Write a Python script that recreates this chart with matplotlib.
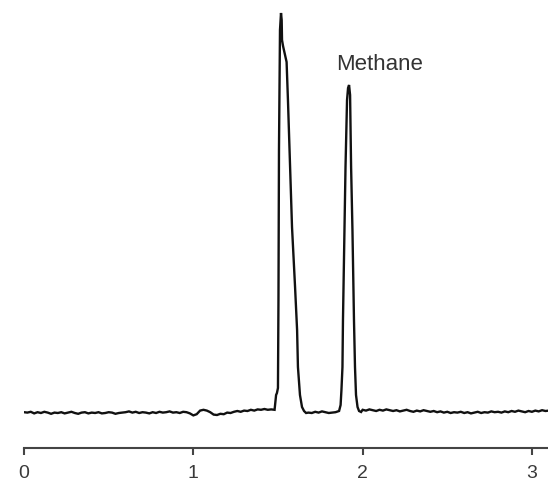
import matplotlib.pyplot as plt
import numpy as np

# retention time (min) and detector signal (arbitrary units)
base_left_t = np.round(np.arange(0.0, 1.481, 0.02), 3)
base_left_y = [0.2, 0.1, 0.3, -0.1, 0.2, 0.0, 0.3, 0.1, -0.2, 0.1,
               0.0, 0.2, -0.1, 0.1, 0.3, 0.0, -0.2, 0.1, 0.2, -0.1,
               0.1, 0.0, 0.2, -0.1, 0.0, 0.2, 0.1, -0.2, 0.0, 0.1,
               0.2, 0.4, 0.1, 0.3, 0.0, 0.2, 0.1, -0.1, 0.2, 0.0,
               0.3, 0.1, 0.2, 0.4, 0.1, 0.2, 0.0, 0.3, 0.2, -0.1,
               -0.6, -0.3, 0.6, 0.8, 0.6, 0.2, -0.4, -0.5, -0.2, -0.3,
               0.1, 0.0, 0.3, 0.5, 0.3, 0.6, 0.5, 0.8, 0.6, 0.9,
               0.8, 1.0, 0.8, 0.9, 0.8]

peak1_t = [1.489, 1.494, 1.500, 1.503, 1.506, 1.512, 1.518, 1.522, 1.524, 1.530,
           1.542, 1.551, 1.559, 1.571, 1.583, 1.601, 1.613, 1.618, 1.630, 1.642,
           1.654, 1.666]
peak1_y = [4.5, 5.0, 6.25, 28.25, 65.75, 95.75, 100.0, 98.25, 93.25, 91.75,
           89.5, 87.75, 78.25, 62.0, 46.5, 31.5, 20.75, 11.5, 4.5, 1.5,
           0.5, 0.0]

mid_t = [1.68, 1.70, 1.72, 1.74, 1.76, 1.78, 1.80, 1.82, 1.84]
mid_y = [0.1, 0.0, 0.3, 0.1, 0.4, 0.2, 0.0, 0.1, 0.2]

peak2_t = [1.861, 1.870, 1.875, 1.881, 1.884, 1.893, 1.899, 1.908, 1.914, 1.920,
           1.926, 1.932, 1.940, 1.949, 1.955, 1.961, 1.970, 1.979, 1.991]
peak2_y = [0.5, 2.0, 5.75, 11.5, 23.25, 45.75, 61.5, 78.25, 81.25, 82.0,
           79.5, 61.5, 45.75, 23.25, 11.5, 4.5, 1.5, 0.5, 0.25]

base_right_t = np.round(np.arange(2.0, 3.101, 0.02), 3)
base_right_y = [0.8, 0.6, 0.9, 0.7, 0.5, 0.8, 0.6, 0.9, 0.7, 0.5,
                0.7, 0.4, 0.6, 0.8, 0.5, 0.3, 0.6, 0.4, 0.7, 0.5,
                0.3, 0.5, 0.2, 0.4, 0.1, 0.3, 0.0, 0.2, 0.1, 0.3,
                0.0, 0.2, -0.1, 0.1, 0.3, 0.0, 0.2, 0.1, 0.4, 0.2,
                0.3, 0.1, 0.4, 0.2, 0.5, 0.3, 0.6, 0.4, 0.2, 0.5,
                0.3, 0.6, 0.4, 0.7, 0.5, 0.6]

t = np.concatenate([base_left_t, peak1_t, mid_t, peak2_t, base_right_t])
y = np.concatenate([base_left_y, peak1_y, mid_y, peak2_y, base_right_y])

xticks = [0, 1, 2, 3]

fig = plt.figure(figsize=(5.48, 4.84), dpi=100)
ax = fig.add_axes([24 / 548, 36 / 484, 1 - 24 / 548, 448 / 484])

ax.plot(t, y, color="#111111", linewidth=1.7, solid_joinstyle="miter")

ax.text(2.103, 87, "Methane", ha="center", va="center",
        fontsize=16, color="#333333", family="Liberation Sans")

ax.set_xlim(0, 3.095)
ax.set_ylim(-8.75, 103.25)
for s in ["top", "right", "left"]:
    ax.spines[s].set_visible(False)
ax.spines["bottom"].set_color("#444444")
ax.spines["bottom"].set_linewidth(1.5)
ax.spines["bottom"].set_bounds(0, 3.095)
ax.set_yticks([])
ax.set_xticks(xticks)
ax.set_xticklabels([str(v) for v in xticks], fontsize=14, color="#3a3a3a",
                   family="Liberation Sans")
ax.tick_params(axis="x", direction="out", length=5, width=1.5,
               color="#444444", pad=7)

plt.savefig("out.png", dpi=100)
